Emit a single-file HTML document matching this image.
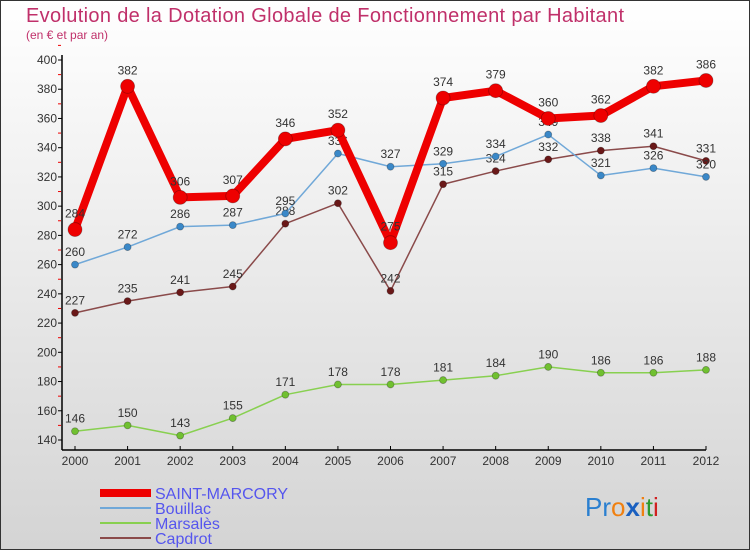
<!DOCTYPE html>
<html><head><meta charset="utf-8"><style>
body{margin:0}
#c{width:750px;height:550px;position:relative;font-family:"Liberation Sans",sans-serif;}
</style></head><body>
<div id="c">
<svg id="s" width="750" height="550" xmlns="http://www.w3.org/2000/svg">
<defs><linearGradient id="bg" x1="0" y1="0" x2="0" y2="1"><stop offset="0" stop-color="#ffffff"/><stop offset="1" stop-color="#d4d4d4"/></linearGradient></defs>
<rect x="0.5" y="0.5" width="749" height="549" fill="url(#bg)" stroke="#333"/>
<text x="26" y="22" font-size="20" textLength="598" fill="#c0306a">Evolution de la Dotation Globale de Fonctionnement par Habitant</text>
<text x="26" y="39" font-size="12" fill="#c0306a">(en € et par an)</text>
<g id="axes"></g><g id="series"></g><g id="legend"></g>
<text x="585" y="516" font-size="26"><tspan fill="#2a7fd0">Pr</tspan><tspan fill="#f08010">o</tspan><tspan fill="#1a60c0" font-weight="bold">x</tspan><tspan fill="#f08010">i</tspan><tspan fill="#2a9a30">t</tspan><tspan fill="#d02020">i</tspan></text>
</svg></div>
<script>
const years=[2000,2001,2002,2003,2004,2005,2006,2007,2008,2009,2010,2011,2012];
const saintMarcory=[284,382,306,307,346,352,275,374,379,360,362,382,386];
const bouillac=[260,272,286,287,295,336,327,329,334,349,321,326,320];
const marsales=[146,150,143,155,171,178,178,181,184,190,186,186,188];
const capdrot=[227,235,241,245,288,302,242,315,324,332,338,341,331];
const yTicks=[140,160,180,200,220,240,260,280,300,320,340,360,380,400];
const NS="http://www.w3.org/2000/svg";
const X=i=>75+i*(706-75)/12;
const Y=v=>440-(v-140)*380/260;
function mk(t,a,p){const e=document.createElementNS(NS,t);for(const k in a)e.setAttribute(k,a[k]);p.appendChild(e);return e;}
const ax=document.getElementById('axes');
let l=mk('line',{x1:62,y1:55,x2:62,y2:450,stroke:'#000','stroke-width':1.5},ax);


l=mk('line',{x1:62,y1:450,x2:706,y2:450,stroke:'#000','stroke-width':1.5},ax);


yTicks.forEach(v=>{
 mk('line',{x1:58,y1:Y(v),x2:62,y2:Y(v),stroke:'#000'},ax);
 mk('line',{x1:58,y1:Y(v+10),x2:61,y2:Y(v+10),stroke:'#e00'},ax);
 const t=mk('text',{x:57,y:Y(v)+4,'font-size':12,fill:'#333','text-anchor':'end'},ax);t.textContent=v;
 
 
});
years.forEach((y,i)=>{
 mk('line',{x1:X(i),y1:446,x2:X(i),y2:450,stroke:'#000'},ax);
 const t=mk('text',{x:X(i),y:465,'font-size':12,fill:'#333','text-anchor':'middle'},ax);t.textContent=y;
 
 
});
const sg=document.getElementById('series');
const defs=[
 {d:marsales,c:'#88d050',pc:'#70c030',w:1.5,r:3.5,n:'marsales'},
 {d:capdrot,c:'#8a4a4a',pc:'#6a1818',w:1.5,r:3.5,n:'capdrot'},
 {d:bouillac,c:'#70a8d8',pc:'#3a88c8',w:1.5,r:3.5,n:'bouillac'},
 {d:saintMarcory,c:'#ee0000',pc:'#ee0000',w:8,r:7,n:'saint-marcory'}];
defs.forEach(s=>{
 const g=mk('g',{},sg);
 
 
 const p=mk('polyline',{points:s.d.map((v,i)=>X(i)+','+Y(v)).join(' '),fill:'none',stroke:s.c,'stroke-width':s.w,'stroke-linejoin':'round'},g);
 
 
 s.d.forEach((v,i)=>{
  const c=mk('circle',{cx:X(i),cy:Y(v),r:s.r,fill:s.pc,stroke:'rgba(0,0,0,0.3)','stroke-width':0.8},g);
  
  
  const t=mk('text',{x:X(i),y:Y(v)-(s.r+5),'font-size':12,fill:'#333','text-anchor':'middle'},g);t.textContent=v;
  
  
 });
});
const lg=document.getElementById('legend');
[['SAINT-MARCORY','#ee0000',8],['Bouillac','#70a8d8',2],['Marsalès','#88d050',2],['Capdrot','#8a4a4a',2]].forEach((e,i)=>{
 const y=493+i*15;
 const g=mk('g',{},lg);
 
 
 mk('line',{x1:100,y1:y,x2:151,y2:y,stroke:e[1],'stroke-width':e[2]},g);
 const t=mk('text',{x:155,y:y+6,'font-size':16,fill:'#5555ee'},g);t.textContent=e[0];
});
</script>
</body></html>
